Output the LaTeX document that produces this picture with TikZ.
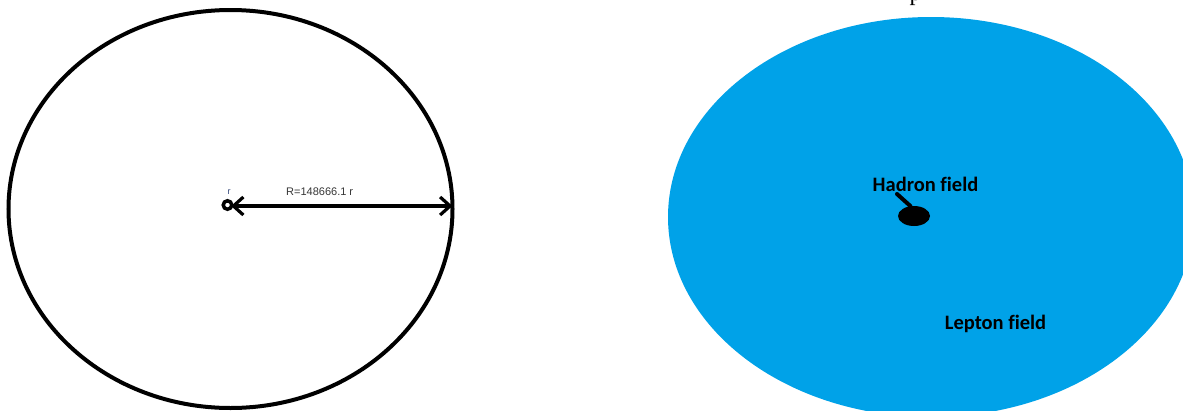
\documentclass[tikz,border=0pt]{standalone}
\usepackage{fontspec}
\usetikzlibrary{arrows.meta,shapes.geometric}
\newfontfamily\calib[Ligatures=NoCommon]{Carlito}
\newfontfamily\arialf{Liberation Sans}
\newfontfamily\timesf{Liberation Serif}
\definecolor{paintblue}{RGB}{0,162,232}
\definecolor{labgray}{RGB}{55,55,55}
\definecolor{rblue}{RGB}{50,70,120}
\tikzset{
  outline/.style={draw=black, line width=4pt},
  fieldlabel/.style={font=\calib\bfseries\fontsize{20.5}{24}\selectfont, text=black, inner sep=0pt},
  radarrow/.style={line width=3.2pt, {Straight Barb[length=10pt,width=18pt]}-{Straight Barb[length=10pt,width=18pt]}},
}
\begin{document}
\begin{tikzpicture}[x=1pt,y=-1pt]
\useasboundingbox (0,0) rectangle (1183,410);
\fill[white] (0,0) rectangle (1183,410);
% left ellipse
\draw[outline] (230.5,209) ellipse [x radius=222, y radius=199];
\coordinate (rim) at (452.5,206);
\node[draw=black, line width=3.5pt, circle, minimum size=8.5pt, inner sep=0pt] (core) at (227.5,205) {};
\node[font=\arialf\fontsize{9}{10}\selectfont, text=rblue, inner sep=0pt] (rlab) at (229,192) {r};
\node[font=\arialf\fontsize{11}{12}\selectfont, text=labgray, inner sep=0pt, anchor=base west] (Rlab) at (286,195) {R=148666.1 r};
\coordinate (cstart) at (231,206);
\draw[radarrow] (cstart) -- (rim);
% right ellipse
\fill[paintblue] (931,217) ellipse [x radius=263, y radius=200];
\node[font=\timesf\fontsize{24}{26}\selectfont, anchor=base, inner sep=0pt] (ptxt) at (915.5,0) {p};
\node[fill=black, ellipse, minimum width=32pt, minimum height=20pt, inner sep=0pt] (hadron) at (914,216) {};
\node[fieldlabel, anchor=base] (hlab) at (925.5,191) {Hadron field};
\node[fieldlabel, anchor=base] (llab) at (995.5,329) {Lepton field};
\coordinate (hstart) at (897,194);
\draw[line width=4pt, line cap=round] (hstart) -- (hadron.110);
\end{tikzpicture}
\end{document}
